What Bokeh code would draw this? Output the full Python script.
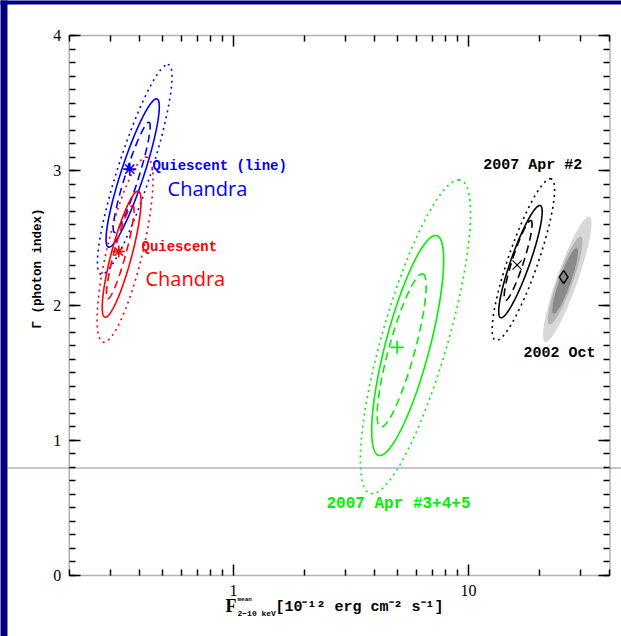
import numpy as np
from bokeh.plotting import figure
from bokeh.models import (FixedTicker, LinearAxis, Label, BoxAnnotation, Range1d)
from bokeh.embed import file_html
from bokeh.resources import INLINE

# ---------------- data ----------------
x_major = [1, 10]
x_minor = [0.2, 0.3, 0.4, 0.5, 0.6, 0.7, 0.8, 0.9, 2, 3, 4, 5, 6, 7, 8, 9, 20, 30, 40]
y_major = [0, 1, 2, 3, 4]
y_minor = [k / 10 for k in range(0, 41)]
box_x = (0.2, 40)      # plotted flux range
box_y = (0, 4)         # plotted photon-index range

# contour levels in each list: [inner (dashed), middle (solid), outer (dotted)]
# each contour: top tip (flux, Gamma), bottom tip (flux, Gamma), half width (dex) at centre
qline_top_f = [0.436, 0.470, 0.525]
qline_top_g = [3.358, 3.531, 3.785]
qline_bot_f = [0.312, 0.295, 0.275]
qline_bot_g = [2.541, 2.432, 2.230]
qline_hw = [0.030, 0.051, 0.074]
qline_best = (0.362, 3.01)

quies_top_f = [0.372, 0.392, 0.425]
quies_top_g = [2.741, 2.847, 3.099]
quies_bot_f = [0.292, 0.285, 0.281]
quies_bot_g = [2.050, 1.913, 1.728]
quies_hw = [0.026, 0.045, 0.078]
quies_best = (0.325, 2.40)

apr345_top_f = [6.35, 7.24, 9.09]
apr345_top_g = [2.235, 2.519, 2.931]
apr345_bot_f = [4.25, 4.195, 3.89]
apr345_bot_g = [1.099, 0.889, 0.605]
apr345_hw = [0.057, 0.097, 0.145]
apr345_best = (4.97, 1.69)

apr2_top_f = [18.4, 20.1, 22.3]
apr2_top_g = [2.630, 2.741, 2.939]
apr2_bot_f = [14.37, 13.77, 13.15]
apr2_bot_g = [2.037, 1.909, 1.741]
apr2_hw = [0.0255, 0.0426, 0.067]
apr2_best = (16.1, 2.30)

oct02_top_f = [28.8, 30.0, 32.5]
oct02_top_g = [2.427, 2.511, 2.659]
oct02_bot_f = [23.07, 22.2, 21.3]
oct02_bot_g = [1.939, 1.859, 1.728]
oct02_hw = [0.0255, 0.034, 0.047]
oct02_best = (25.4, 2.21)

ref_gamma = 0.8

NAVY = "#000080"
GREEN = "#00f000"


def contour(top_f, top_g, bot_f, bot_g, hw, n=240):
    t = np.linspace(0, 2 * np.pi, n)
    lt, lb = np.log10(top_f), np.log10(bot_f)
    cx, cy = (lt + lb) / 2, (top_g + bot_g) / 2
    ax, ay = (lt - lb) / 2, (top_g - bot_g) / 2
    lx = cx + ax * np.cos(t) + hw * np.sin(t)
    gy = cy + ay * np.cos(t)
    return 10 ** lx, gy


# the frame fills the whole page; the axes sit at fixed locations on the box
p = figure(width=621, height=636, x_axis_type="log",
           x_range=Range1d(0.10198, 44.78), y_range=Range1d(-0.4519, 4.2593),
           x_axis_location=None, y_axis_location=None,
           output_backend="svg", toolbar_location=None,
           background_fill_color="white", border_fill_color="white",
           outline_line_color=None)
p.min_border = 0
p.title.visible = False
p.grid.visible = False

ax_bottom = LinearAxis(fixed_location=box_y[0])
ax_top = LinearAxis(fixed_location=box_y[1])
ax_left = LinearAxis(fixed_location=box_x[0])
ax_right = LinearAxis(fixed_location=box_x[1])
p.add_layout(ax_bottom, "below")
p.add_layout(ax_top, "above")
p.add_layout(ax_left, "left")
p.add_layout(ax_right, "right")

for ax in [ax_bottom, ax_top]:
    ax.ticker = FixedTicker(ticks=x_major, minor_ticks=x_minor)
for ax in [ax_left, ax_right]:
    ax.ticker = FixedTicker(ticks=y_major, minor_ticks=y_minor)

for ax in [ax_bottom, ax_top, ax_left, ax_right]:
    ax.axis_line_color = None
    ax.major_tick_in = 11
    ax.major_tick_out = 0
    ax.minor_tick_in = 6
    ax.minor_tick_out = 0
    ax.major_tick_line_width = 1.5
    ax.minor_tick_line_width = 1.5
    ax.major_tick_line_color = "black"
    ax.minor_tick_line_color = "black"
    ax.major_label_text_font = "Liberation Serif"
    ax.major_label_text_font_size = "16px"
    ax.major_label_text_color = "black"
for ax in [ax_top, ax_right]:
    ax.major_label_text_color = None
ax_bottom.major_label_standoff = 10
ax_left.major_label_standoff = 8

# plot box
p.add_layout(BoxAnnotation(left=box_x[0], right=box_x[1], bottom=box_y[0], top=box_y[1],
                           fill_alpha=0, line_color="black", line_width=1.5, level="guide"))

# reference line across the page
p.add_layout(BoxAnnotation(left=0.1092, right=1e3, bottom=ref_gamma - 1 / 135, top=ref_gamma,
                           fill_color="#8c8cbe", fill_alpha=1, line_color=None, level="underlay"))

# ---------------- contours ----------------
fills = ["#8a8a8a", "#b4b4b4", "#d8d8d8"]
for i in [2, 1, 0]:
    xs, ys = contour(oct02_top_f[i], oct02_top_g[i], oct02_bot_f[i], oct02_bot_g[i], oct02_hw[i])
    p.patch(xs, ys, fill_color=fills[i], line_color=None)

dashes = ["8 5", "solid", "2 4"]
groups = [
    (qline_top_f, qline_top_g, qline_bot_f, qline_bot_g, qline_hw, "#0000ff"),
    (quies_top_f, quies_top_g, quies_bot_f, quies_bot_g, quies_hw, "#ff0000"),
    (apr345_top_f, apr345_top_g, apr345_bot_f, apr345_bot_g, apr345_hw, GREEN),
    (apr2_top_f, apr2_top_g, apr2_bot_f, apr2_bot_g, apr2_hw, "black"),
]
for tf, tg, bf, bg, hw, col in groups:
    for i in range(3):
        xs, ys = contour(tf[i], tg[i], bf[i], bg[i], hw[i])
        p.line(xs, ys, line_color=col, line_width=1.6, line_dash=dashes[i])

# best-fit markers
p.scatter([qline_best[0]], [qline_best[1]], marker="asterisk", size=13, line_color="#0000ff", line_width=1.6)
p.scatter([quies_best[0]], [quies_best[1]], marker="asterisk", size=12, line_color="#ff0000", line_width=1.6)
p.scatter([apr345_best[0]], [apr345_best[1]], marker="cross", size=13, line_color=GREEN, line_width=1.6)
p.scatter([apr2_best[0]], [apr2_best[1]], marker="x", size=13, line_color="black", line_width=1.2)
p.scatter([oct02_best[0]], [oct02_best[1]], marker="diamond", size=13, line_color="black",
          fill_color=None, line_width=1.5)


# ---------------- texts ----------------
def lab(x, y, text, color="black", font="Liberation Mono", size="14px", style="bold",
        align="left", angle=0.0):
    p.add_layout(Label(x=x, y=y, text=text, text_color=color, text_font=font,
                       text_font_size=size, text_font_style=style, text_align=align,
                       text_baseline="middle", angle=angle))


lab(0.452, 3.03, "Quiescent (line)", "#0000ff", size="14px")
lab(0.524, 2.867, "Chandra", "#0000ff", font="Open Sans", size="20px", style="normal")
lab(0.406, 2.437, "Quiescent", "#ff0000", size="14px")
lab(0.422, 2.20, "Chandra", "#ff0000", font="Open Sans", size="20px", style="normal")
lab(11.55, 3.037, "2007 Apr #2", size="15px")
lab(17.14, 1.644, "2002 Oct", size="15px")
lab(2.487, 0.533, "2007 Apr #3+4+5", GREEN, size="16px")

# axis titles
lab(0.1466, 2.274, "\u0393 (photon index)", size="12.5px", align="center", angle=np.pi / 2)
lab(0.9246, -0.2296, "F", font="Liberation Serif", size="18px")
lab(1.040, -0.1778, "mean", size="6px")
lab(1.040, -0.2815, "2\u221210 keV", size="8px")
lab(1.509, -0.237, "[10\u207b\u00b9\u00b2 erg cm\u207b\u00b2 s\u207b\u00b9]", size="15px")

# navy page edges
p.add_layout(BoxAnnotation(left=0.01, right=0.1092, bottom=-5, top=10,
                           fill_color=NAVY, fill_alpha=1, line_color=None, level="overlay"))
p.add_layout(BoxAnnotation(left=0.01, right=1e3, bottom=4.2296, top=10,
                           fill_color=NAVY, fill_alpha=1, line_color=None, level="overlay"))

open("out.html", "w").write(file_html(p, INLINE))
